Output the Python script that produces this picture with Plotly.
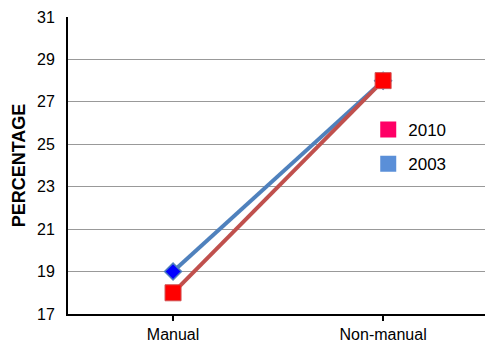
import plotly.graph_objects as go

categories = ["Manual", "Non-manual"]
pct_2010 = [18, 28]
pct_2003 = [19, 28]
y_ticks = [17, 19, 21, 23, 25, 27, 29, 31]

x_pos = list(range(len(categories)))

fig = go.Figure()

# 2003 series: blue line with diamond marker
fig.add_trace(go.Scatter(
    x=x_pos, y=pct_2003, mode="lines+markers", showlegend=False,
    line=dict(color="#4f81bd", width=4),
    marker=dict(symbol="diamond", size=13, color="#0000ff",
                line=dict(color="#4f81bd", width=1.5)),
))
# 2010 series: red line with square marker
fig.add_trace(go.Scatter(
    x=x_pos, y=pct_2010, mode="lines+markers", showlegend=False,
    line=dict(color="#c0504d", width=4),
    marker=dict(symbol="square", size=16, color="#ff0000",
                line=dict(color="#d05050", width=1)),
))

# legend swatches
for name, color, grp in [("2010", "#ff0066", "a"), ("2003", "#5a8fd8", "b")]:
    fig.add_trace(go.Scatter(
        x=[None], y=[None], mode="markers", name=name, legendgroup=grp,
        marker=dict(symbol="square", size=18, color=color, line=dict(width=0)),
    ))

fig.update_layout(
    width=485, height=348,
    margin=dict(l=68, r=0, t=17, b=34),
    paper_bgcolor="white", plot_bgcolor="white",
    font=dict(family="Liberation Sans, Arial, sans-serif", size=16, color="black"),
    showlegend=True,
    legend=dict(x=0.72, y=0.68, xanchor="left", yanchor="top",
                traceorder="grouped", tracegroupgap=9,
                font=dict(size=17), bgcolor="rgba(0,0,0,0)"),
    xaxis=dict(
        range=[-0.5, 1.485], tickvals=x_pos, ticktext=categories,
        showgrid=False, zeroline=False,
        showline=True, linecolor="black", linewidth=2,
        ticks="outside", ticklen=5, tickwidth=2, tickcolor="black",
        tickfont=dict(size=16),
        fixedrange=True,
    ),
    yaxis=dict(
        range=[17, 31], tickvals=y_ticks,
        showgrid=True, gridcolor="#999999", gridwidth=1, zeroline=False,
        showline=True, linecolor="black", linewidth=2,
        ticks="", ticklabelstandoff=8, tickfont=dict(size=16),
        title=dict(text="<b>PERCENTAGE</b>", font=dict(size=18), standoff=7),
        fixedrange=True,
    ),
)

fig.write_html("out.html")
